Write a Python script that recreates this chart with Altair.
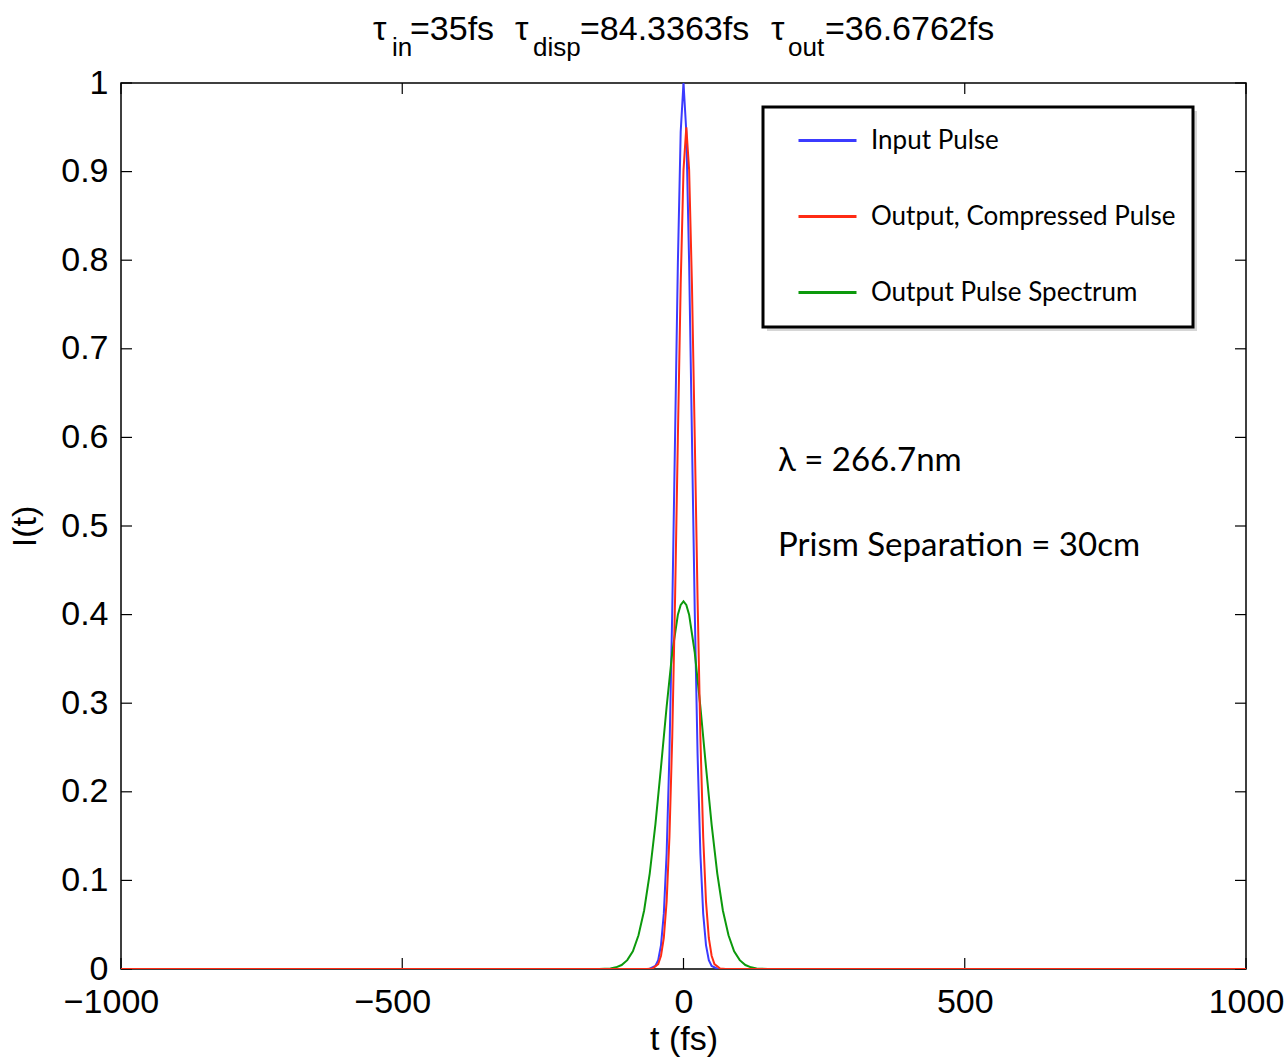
import altair as alt
import pandas as pd

# ---- data ----
series_names = ["Input Pulse", "Output, Compressed Pulse", "Output Pulse Spectrum"]
series_colors = ["#3b3bff", "#ff2b14", "#0c990c"]

input_t = [-1000, -70, -60, -50, -45, -40, -35, -30, -25, -20, -15, -10, -5, 0,
           5, 10, 15, 20, 25, 30, 35, 40, 45, 50, 60, 70, 1000]
input_I = [0, 0, 0.0003, 0.0035, 0.010, 0.027, 0.0625, 0.130, 0.243, 0.404, 0.601, 0.797, 0.945, 1.0,
           0.945, 0.797, 0.601, 0.404, 0.243, 0.130, 0.0625, 0.027, 0.010, 0.0035, 0.0003, 0, 0]

output_t = [-1000, -65, -55, -45, -40, -35, -30, -25, -20, -15, -10, -5, 0, 5,
            10, 15, 20, 25, 30, 35, 40, 45, 50, 55, 65, 75, 1000]
output_I = [0, 0, 0.0006, 0.0055, 0.015, 0.035, 0.076, 0.149, 0.262, 0.418, 0.600, 0.773, 0.902, 0.95,
            0.902, 0.773, 0.600, 0.418, 0.262, 0.149, 0.076, 0.035, 0.015, 0.0055, 0.0006, 0, 0]

spectrum_t = [-1000, -150, -130, -120, -110, -100, -90, -80, -70, -60, -50, -40, -30, -20, -10, -5, 0,
              5, 10, 20, 30, 40, 50, 60, 70, 80, 90, 100, 110, 120, 130, 150, 1000]
spectrum_I = [0, 0, 0.0007, 0.0019, 0.0045, 0.010, 0.020, 0.038, 0.066, 0.108, 0.163, 0.228, 0.296, 0.357, 0.400, 0.411, 0.415,
              0.411, 0.400, 0.357, 0.296, 0.228, 0.163, 0.108, 0.066, 0.038, 0.020, 0.010, 0.0045, 0.0019, 0.0007, 0, 0]

x_ticks = [-1000, -500, 0, 500, 1000]
y_ticks = [0, 0.1, 0.2, 0.3, 0.4, 0.5, 0.6, 0.7, 0.8, 0.9, 1.0]

# ---- chart ----
W, H = 1125, 886
TL = 11
HELV = "Liberation Sans"

xscale = alt.Scale(domain=[-1000, 1000], nice=False, zero=False)
yscale = alt.Scale(domain=[0, 1], nice=False)

xaxis = alt.Axis(values=x_ticks, format="d", labelFont=HELV, labelFontSize=34, labelColor="black",
                 labelPadding=16, labelFlush=False, ticks=False, domain=False, grid=False,
                 labelOffset={"condition": {"test": "datum.value < 0", "value": -10}, "value": 0},
                 titleFont=HELV, titleFontSize=34, titleFontWeight="normal", titleColor="black",
                 titlePadding=3)
yaxis = alt.Axis(values=y_ticks, format=".1~f", labelFont=HELV, labelFontSize=34, labelColor="black",
                 labelPadding=13, labelFlush=False, ticks=False, domain=False, grid=False,
                 titleFont=HELV, titleFontSize=34, titleFontWeight="normal", titleColor="black",
                 titlePadding=18)

X = alt.X("t:Q", scale=xscale, axis=xaxis, title="t (fs)")
Y = alt.Y("I:Q", scale=yscale, axis=yaxis, title="I(t)")

legend = alt.Legend(orient="none", legendX=642, legendY=27, padding=0, symbolOffset=34,
                    symbolType="stroke", symbolSize=3364, symbolStrokeWidth=3,
                    labelFont="Lato", labelFontSize=26, labelColor="black", labelOffset=13,
                    rowPadding=32, labelLimit=500)

color = alt.Color("series:N", title=None,
                  scale=alt.Scale(domain=series_names, range=series_colors), legend=legend)


def frame(ts, vs, name):
    return pd.DataFrame({"t": ts, "I": vs, "series": name})


def line(df):
    return alt.Chart(df).mark_line(strokeWidth=2, clip=True).encode(x=X, y=Y, color=color)


blue = line(frame(input_t, input_I, series_names[0]))
green = line(frame(spectrum_t, spectrum_I, series_names[2]))
red = line(frame(output_t, output_I, series_names[1]))

xt = pd.DataFrame({"t": x_ticks})
yt = pd.DataFrame({"I": y_ticks})
tick_layers = [
    alt.Chart(xt).mark_rule(color="black", strokeWidth=1.2).encode(
        x=X, y=alt.value(H), y2=alt.value(H - TL)),
    alt.Chart(xt).mark_rule(color="black", strokeWidth=1.2).encode(
        x=X, y=alt.value(0), y2=alt.value(TL)),
    alt.Chart(yt).mark_rule(color="black", strokeWidth=1.2).encode(
        y=Y, x=alt.value(0), x2=alt.value(TL)),
    alt.Chart(yt).mark_rule(color="black", strokeWidth=1.2).encode(
        y=Y, x=alt.value(W), x2=alt.value(W - TL)),
]

one = pd.DataFrame({"k": [0]})


def txt(s, x, y, size, font=HELV):
    return alt.Chart(one).mark_text(text=s, font=font, fontSize=size, align="left",
                                    baseline="alphabetic", color="black").encode(
        x=alt.value(x), y=alt.value(y))


MAIN_Y, SUB_Y = -43, -27
title_layers = [
    txt("τ", 252, MAIN_Y, 34), txt("in", 271, SUB_Y, 26), txt("=35fs", 289, MAIN_Y, 34),
    txt("τ", 394, MAIN_Y, 34), txt("disp", 412, SUB_Y, 26), txt("=84.3363fs", 459, MAIN_Y, 34),
    txt("τ", 650, MAIN_Y, 34), txt("out", 667, SUB_Y, 26), txt("=36.6762fs", 704, MAIN_Y, 34),
]

# legend frame (decoration)
legend_box = [
    alt.Chart(one).mark_rect(fill="#bbbbbb", opacity=0.6).encode(
        x=alt.value(646), x2=alt.value(1076), y=alt.value(28), y2=alt.value(248)),
    alt.Chart(one).mark_rect(fill="white", stroke="black", strokeWidth=3).encode(
        x=alt.value(642), x2=alt.value(1072), y=alt.value(24), y2=alt.value(244)),
]

annot = [
    alt.Chart(one).mark_text(text="λ = 266.7nm", font="Lato", fontSize=33, align="left",
                             baseline="middle", color="black").encode(x=alt.value(657), y=alt.value(378)),
    alt.Chart(one).mark_text(text="Prism Separation = 30cm", font="Lato", fontSize=33, align="left",
                             baseline="middle", color="black").encode(x=alt.value(657), y=alt.value(463)),
]

chart = alt.layer(*tick_layers, blue, green, red, *legend_box, *title_layers, *annot).properties(
    width=W, height=H,
    padding={"left": 121, "top": 83, "right": 42, "bottom": 90},
    autosize=alt.AutoSizeParams(type="none"),
    background="white",
).configure_view(stroke="black", strokeWidth=1.5)

chart.save("out.html", embed_options={"renderer": "svg", "actions": False})
